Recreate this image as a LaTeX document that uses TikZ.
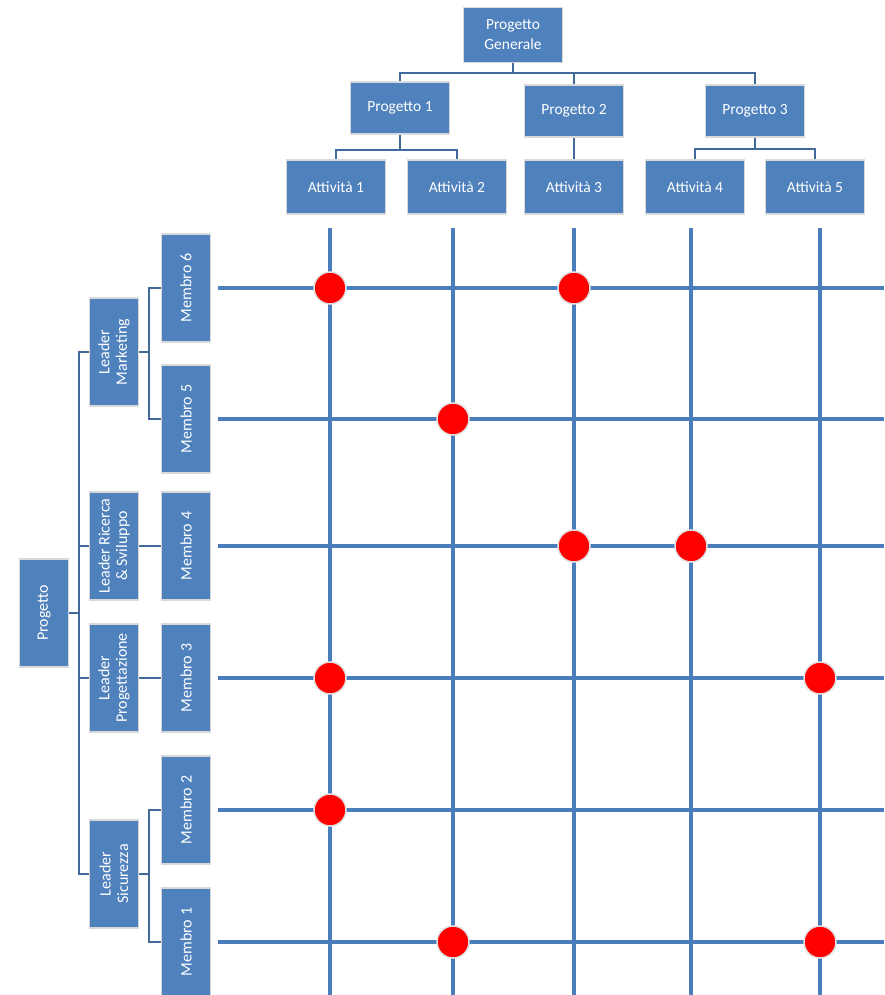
\documentclass[tikz,border=0pt]{standalone}
\usepackage{fontspec}
\setmainfont{Carlito}
\usetikzlibrary{positioning}
\definecolor{boxblue}{RGB}{79,129,189}
\definecolor{lineblue}{RGB}{65,105,155}
\definecolor{gridblue}{RGB}{74,126,187}

\begin{document}
\begin{tikzpicture}[x=1pt, y=-1pt,
		box/.style={draw=black!15, line width=1.2pt, fill=boxblue, text=white, font=\fontsize{15.5}{20}\selectfont, align=center, inner sep=0pt, minimum width=99pt, minimum height=52pt},
		sidebox/.style={box, rotate=90, font=\fontsize{16}{17.5}\selectfont, minimum width=108pt, minimum height=49pt},
		conn/.style={draw=lineblue, line width=2pt},
		gridline/.style={draw=gridblue, line width=4pt},
		dot/.style={circle, fill=red, draw=black!12, line width=1.5pt, minimum size=32pt, inner sep=0pt}]
		\useasboundingbox (0,0) rectangle (884,995);
		\coordinate (edge) at (884,995);
		% projects and activities
		\node[box, minimum height=55pt] (pg) at (513,35) {Progetto\\Generale};
		\node[box] (p1) at (400,108) {Progetto 1};
		\node[box] (p2) at (574,111) {Progetto 2};
		\node[box] (p3) at (755,111) {Progetto 3};
		\foreach \i/\x in {1/336, 2/457, 3/574, 4/695, 5/815} {
			\node[box, minimum height=54pt] (a\i) at (\x,187) {Attività \i};
		}
		\foreach \p in {p1, p2, p3} {
			\draw[conn] (pg.south) -- ++(0,10) -| (\p.north);
		}
		\foreach \a in {a1, a2} {
			\draw[conn] (p1.south) -- ++(0,15) -| (\a.north);
		}
		\draw[conn] (p2.south) -- (a3.north);
		\foreach \a in {a4, a5} {
			\draw[conn] (p3.south) -- ++(0,11) -| (\a.north);
		}
		% team
		\node[sidebox] (pr) at (44,613) {Progetto};
		\node[sidebox] (lm) at (114,352) {Leader\\Marketing};
		\node[sidebox] (lr) at (114,546) {Leader Ricerca\\\& Sviluppo};
		\node[sidebox] (lp) at (114,678) {Leader\\Progettazione};
		\node[sidebox] (ls) at (114,874) {Leader\\Sicurezza};
		\foreach \i/\y in {6/288, 5/419, 4/546, 3/678, 2/810, 1/942} {
			\node[sidebox] (m\i) at (186,\y) {Membro \i};
		}
		\foreach \l in {lm, lr, lp, ls} {
			\draw[conn] (pr.south) -- ++(10,0) |- (\l.north);
		}
		\foreach \m in {m6, m5} {
			\draw[conn] (lm.south) -- ++(10,0) |- (\m.north);
		}
		\draw[conn] (lr.south) -- (m4.north);
		\draw[conn] (lp.south) -- (m3.north);
		\foreach \m in {m2, m1} {
			\draw[conn] (ls.south) -- ++(10,0) |- (\m.north);
		}
		% matrix
		\foreach \i in {1, ..., 6} {
			\draw[gridline] ([xshift=7pt]m\i.south) -- (m\i.south -| edge);
		}
		\foreach \c/\x in {1/330, 2/453, 3/574, 4/691, 5/820} {
			\coordinate (c\c) at (\x,228);
			\draw[gridline] (c\c) -- (c\c |- edge);
		}
		\foreach \m/\c in {6/1, 6/3, 5/2, 4/3, 4/4, 3/1, 3/5, 2/1, 1/2, 1/5} {
			\node[dot] (d\m\c) at (c\c |- m\m) {};
		}
	\end{tikzpicture}
\end{document}
